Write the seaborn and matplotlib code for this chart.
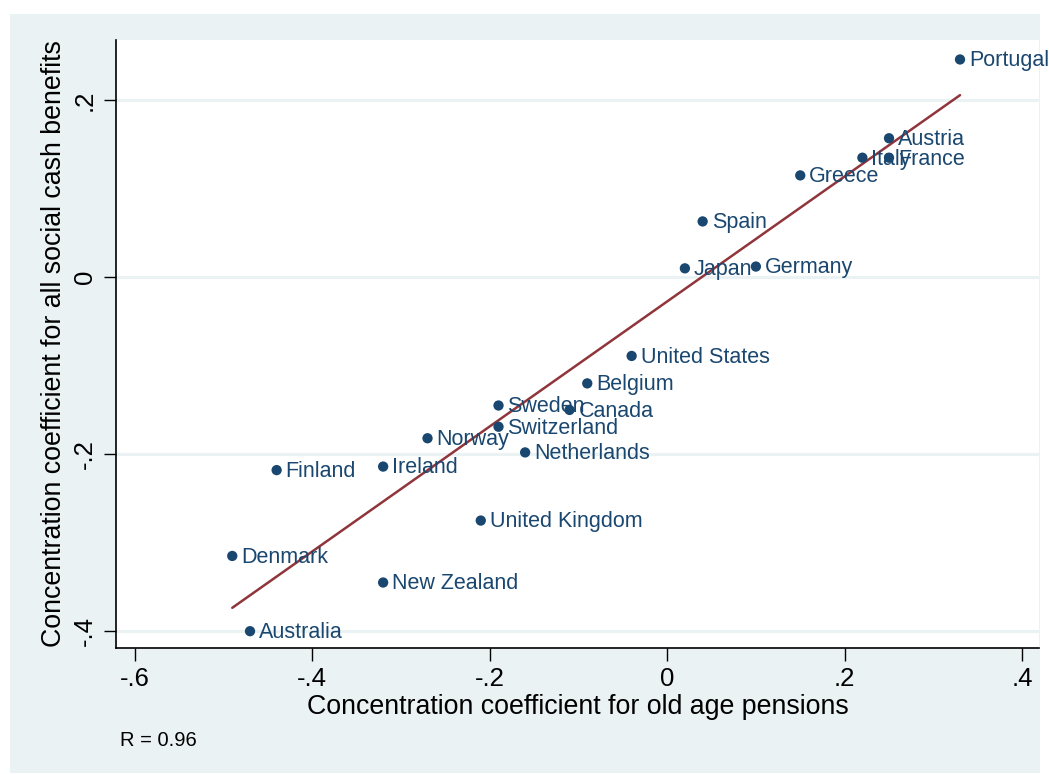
import matplotlib
matplotlib.use("Agg")
import matplotlib.pyplot as plt
from matplotlib.patches import Rectangle
from matplotlib import font_manager
import numpy as np
import pandas as pd
import seaborn as sns

# Concentration coefficients by country
countries = ["Portugal", "Austria", "Italy", "France", "Greece", "Spain", "Japan",
             "Germany", "United States", "Belgium", "Sweden", "Canada", "Switzerland",
             "Norway", "Netherlands", "Finland", "Ireland", "United Kingdom",
             "Denmark", "New Zealand", "Australia"]
pensions = [0.33, 0.25, 0.22, 0.25, 0.15, 0.04, 0.02,
            0.10, -0.04, -0.09, -0.19, -0.11, -0.19,
            -0.27, -0.16, -0.44, -0.32, -0.21,
            -0.49, -0.32, -0.47]
cash_benefits = [0.246, 0.157, 0.135, 0.135, 0.115, 0.063, 0.010,
                 0.012, -0.089, -0.120, -0.145, -0.150, -0.169,
                 -0.182, -0.198, -0.218, -0.214, -0.275,
                 -0.315, -0.345, -0.400]
x_ticks = [-0.6, -0.4, -0.2, 0.0, 0.2, 0.4]
x_tick_labels = ["-.6", "-.4", "-.2", "0", ".2", ".4"]
y_ticks = [-0.4, -0.2, 0.0, 0.2]
y_tick_labels = ["-.4", "-.2", "0", ".2"]

df = pd.DataFrame({"country": countries, "pensions": pensions,
                   "cash": cash_benefits})

sns.set_theme(style="white")
installed = {f.name for f in font_manager.fontManager.ttflist}
family = "Liberation Sans Narrow" if "Liberation Sans Narrow" in installed else "Liberation Sans"
plt.rcParams["font.family"] = [family, "DejaVu Sans"]

navy = "#1a476f"
maroon = "#90353b"
panel = "#eaf2f3"

W, H = 1049, 774
fig = plt.figure(figsize=(W / 100, H / 100), dpi=100, facecolor="white")
fig.patches.append(Rectangle((10 / W, 1 / H), 1030 / W, 759 / H,
                             transform=fig.transFigure, facecolor=panel,
                             edgecolor="none", zorder=-10))
ax = fig.add_axes([116 / W, (H - 648) / H, (1039 - 116) / W, (648 - 40) / H])
ax.set_facecolor("white")

for yt in y_ticks:
    ax.axhline(yt, color=panel, lw=2.2, zorder=0)

sns.regplot(data=df, x="pensions", y="cash", ax=ax, ci=None,
            scatter_kws=dict(s=55, color=navy, edgecolors="none", alpha=1, zorder=3),
            line_kws=dict(color=maroon, lw=1.8, zorder=2))

for c, xv, yv in zip(countries, pensions, cash_benefits):
    ax.annotate(c, (xv, yv), xytext=(6.5, -1), textcoords="offset points",
                ha="left", va="center", color=navy, fontsize=15.5, zorder=4)

ax.set_xlim(-0.621, 0.419)
ax.set_ylim(-0.419, 0.268)
ax.set_xticks(x_ticks)
ax.set_xticklabels(x_tick_labels)
ax.set_yticks(y_ticks)
ax.set_yticklabels(y_tick_labels, rotation=90, va="center")
ax.tick_params(axis="both", which="major", direction="out", length=9, width=1,
               color="black", labelsize=18.5, labelcolor="black", pad=5,
               bottom=True, left=True)

for side in ["top", "right"]:
    ax.spines[side].set_visible(False)
for side in ["left", "bottom"]:
    ax.spines[side].set_color("black")
    ax.spines[side].set_linewidth(1.2)

ax.set_xlabel("Concentration coefficient for old age pensions", fontsize=19.3,
              color="black", labelpad=2)
ax.set_ylabel("Concentration coefficient for all social cash benefits", fontsize=19.3,
              color="black", labelpad=4)

fig.text(120 / W, 1 - 741 / H, "R = 0.96", fontsize=14.5, color="black",
         ha="left", va="center")

fig.savefig("out.png", dpi=100, facecolor="white")
